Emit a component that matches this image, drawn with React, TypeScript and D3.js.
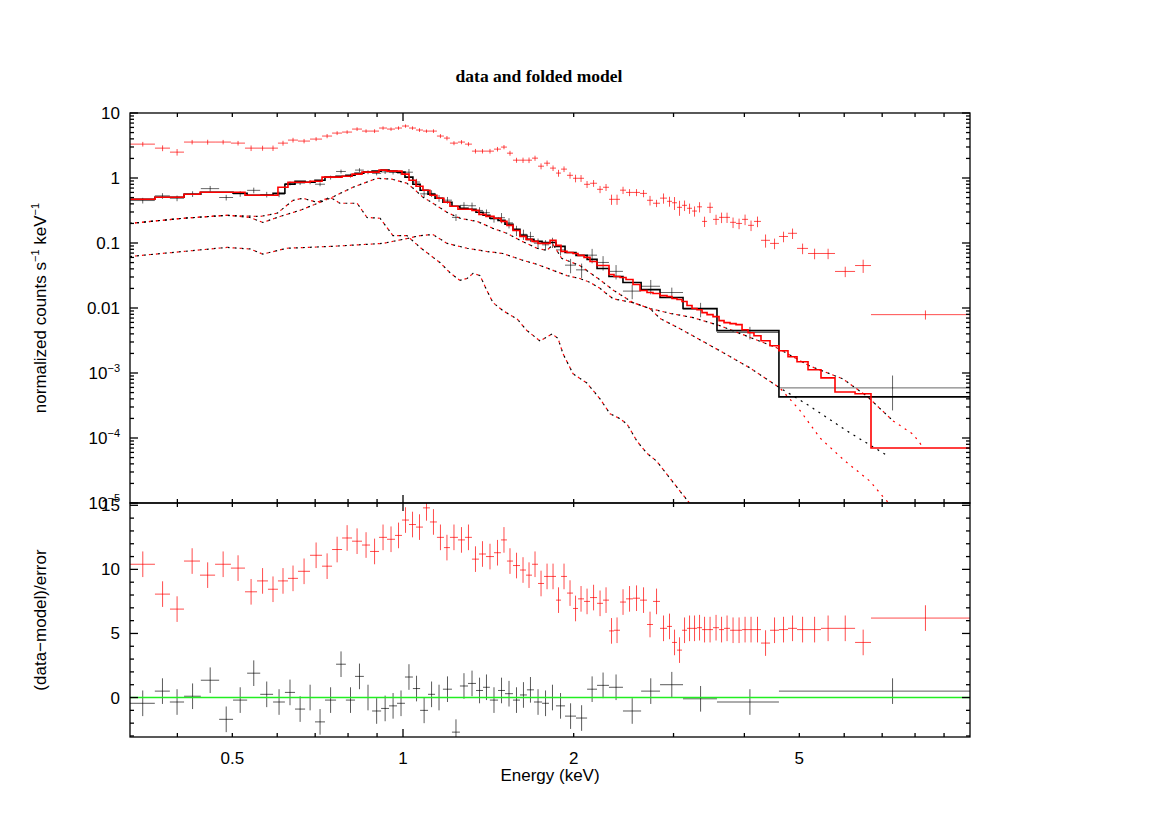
import React from "react";
import * as d3 from "d3";

// ---------- black data set (bins in keV) ----------
const blackEdges = [
  0.330, 0.365, 0.388, 0.411, 0.440, 0.474, 0.5015, 0.531, 0.560, 0.590,
  0.619, 0.645, 0.672, 0.6995, 0.7285, 0.762, 0.793, 0.823, 0.853, 0.882,
  0.915, 0.945, 0.976, 1.008, 1.041, 1.072, 1.107, 1.139, 1.176, 1.220,
  1.260, 1.302, 1.345, 1.384, 1.423, 1.471, 1.513, 1.563, 1.608, 1.654,
  1.702, 1.759, 1.809, 1.861, 1.931, 2.019, 2.112, 2.199, 2.308, 2.443,
  2.630, 2.840, 3.118, 3.579, 4.603, 10.0,
];
const blackModel = [
  0.471, 0.506, 0.506, 0.562, 0.604, 0.604, 0.582, 0.543, 0.543, 0.582,
  0.802, 0.893, 0.861, 0.925, 1.03, 1.066, 1.105, 1.186, 1.23, 1.274,
  1.32, 1.274, 1.23, 1.03, 0.80, 0.648, 0.562, 0.488, 0.423, 0.367,
  0.342, 0.33, 0.297, 0.267, 0.24, 0.223, 0.194, 0.162, 0.131, 0.1138,
  0.106, 0.102, 0.102, 0.0887, 0.0716, 0.0644, 0.0559, 0.0406, 0.0305, 0.0247,
  0.0192, 0.0145, 0.0098, 0.00448, 0.00043,
];
const blackData = [
  0.450, 0.531, 0.488, 0.568, 0.686, 0.501, 0.570, 0.646, 0.557, 0.562,
  0.824, 0.837, 0.861, 0.802, 1.016, 1.26, 1.09, 1.323, 1.23, 1.18,
  1.241, 1.216, 1.191, 1.228, 0.867, 0.570, 0.579, 0.488, 0.456, 0.248,
  0.379, 0.374, 0.317, 0.293, 0.234, 0.245, 0.204, 0.156, 0.136, 0.126,
  0.0993, 0.0937, 0.102, 0.0783, 0.0456, 0.0386, 0.065, 0.0502, 0.0366, 0.0182,
  0.0216, 0.0173, 0.0096, 0.0042, 0.00059,
];
const blackRelErr = [
  0.10, 0.10, 0.10, 0.10, 0.10, 0.10, 0.10, 0.10, 0.10, 0.10,
  0.07, 0.07, 0.07, 0.07, 0.07, 0.07, 0.07, 0.07, 0.07, 0.07,
  0.07, 0.07, 0.07, 0.12, 0.12, 0.12, 0.12, 0.12, 0.12, 0.12,
  0.12, 0.12, 0.12, 0.12, 0.12, 0.18, 0.18, 0.18, 0.18, 0.18,
  0.18, 0.18, 0.18, 0.18, 0.25, 0.25, 0.25, 0.25, 0.25, 0.25,
  0.25, 0.19, 0.25, 0.22, 0.55,
];
const blackResid = [
  -0.45, 0.5, -0.35, 0.1, 1.35, -1.7, -0.2, 1.9, 0.25, -0.35,
  0.4, -0.9, 0.0, -1.9, -0.2, 2.6, -0.2, 1.65, 0.0, -1.05,
  -0.85, -0.65, -0.45, 1.6, 0.7, -1.0, 0.25, 0.0, 0.65, -2.7,
  0.9, 1.1, 0.55, 0.8, -0.2, 0.55, 0.3, -0.2, 0.2, 0.6,
  -0.35, -0.45, 0.0, -0.65, -1.45, -1.6, 0.65, 0.95, 0.8, -1.05,
  0.5, 1.0, -0.1, -0.35, 0.5,
];

// ---------- red data set ----------
const redEdges = [
  0.330, 0.3652, 0.3882, 0.4109, 0.4385, 0.4662, 0.4972, 0.5264, 0.5528, 0.5779,
  0.6018, 0.6268, 0.6528, 0.6855, 0.7198, 0.7497, 0.7808, 0.8131, 0.8466, 0.8747,
  0.9072, 0.9371, 0.9680, 0.9959, 1.0247, 1.0542, 1.0845, 1.1157, 1.1477, 1.1808,
  1.2100, 1.2500, 1.2860, 1.3231, 1.3614, 1.4006, 1.4469, 1.4885, 1.5253, 1.5631,
  1.6082, 1.6479, 1.6886, 1.7302, 1.7731, 1.8169, 1.8614, 1.8998, 1.9464, 1.9946,
  2.0355, 2.0858, 2.1373, 2.1990, 2.2530, 2.3086, 2.3559, 2.4140, 2.4736, 2.5447,
  2.6182, 2.6937, 2.7602, 2.8397, 2.9215, 2.9815, 3.0426, 3.1053, 3.1690, 3.2340,
  3.3003, 3.3680, 3.4377, 3.5220, 3.6090, 3.6830, 3.7738, 3.8670, 3.9625, 4.0604,
  4.1591, 4.2794, 4.4391, 4.6035, 4.7753, 4.9535, 5.1801, 5.4601, 5.7797, 6.2705,
  6.6895, 10.0,
];
const redModel = [
  0.471, 0.506, 0.506, 0.562, 0.604, 0.604, 0.604, 0.543, 0.543, 0.543,
  0.721, 0.861, 0.861, 0.893, 1.03, 1.03, 1.066, 1.146, 1.23, 1.23,
  1.32, 1.274, 1.274, 1.146, 0.925, 0.747, 0.648, 0.543, 0.488, 0.423,
  0.367, 0.33, 0.33, 0.318, 0.276, 0.257, 0.24, 0.2155, 0.187, 0.156,
  0.1264, 0.1138, 0.106, 0.0986, 0.0986, 0.1096, 0.0918, 0.0742, 0.0716, 0.0691,
  0.0644, 0.060, 0.052, 0.0451, 0.0451, 0.0327, 0.0305, 0.0294, 0.0274, 0.023,
  0.0186, 0.0173, 0.0167, 0.0155, 0.015, 0.014, 0.0135, 0.0126, 0.0109, 0.0098,
  0.0094, 0.0085, 0.0079, 0.00736, 0.0064, 0.00595, 0.00574, 0.00555, 0.00464, 0.00417,
  0.00375, 0.00314, 0.00263, 0.0022, 0.00178, 0.00149, 0.00112, 0.00084, 0.00051, 0.00048,
  0.00007,
];
const redData = [
  3.32, 2.88, 2.50, 3.57, 3.57, 3.57, 3.44, 2.88, 2.88, 2.88,
  3.44, 3.83, 3.70, 3.97, 4.42, 4.91, 5.09, 5.66, 5.27, 5.27,
  5.87, 5.66, 5.87, 6.30, 5.87, 5.47, 5.27, 5.27, 4.42, 4.11,
  3.44, 3.57, 3.32, 2.59, 2.59, 2.59, 2.78, 2.99, 2.41, 1.88,
  1.88, 1.88, 2.02, 1.52, 1.69, 1.42, 1.19, 1.37, 1.10, 0.99,
  0.99, 0.80, 0.83, 0.67, 0.72, 0.47, 0.47, 0.65, 0.60, 0.60,
  0.58, 0.454, 0.409, 0.49, 0.438, 0.416, 0.354, 0.38, 0.342, 0.31,
  0.36, 0.215, 0.354, 0.231, 0.248, 0.248, 0.208, 0.20, 0.231, 0.187,
  0.215, 0.11, 0.0986, 0.126, 0.141, 0.0826, 0.069, 0.069, 0.0365, 0.045,
  0.0079,
];
const redResid = [
  10.4, 8.07, 6.9, 10.65, 9.55, 10.4, 10.1, 8.25, 9.1, 8.45,
  9.1, 9.3, 9.85, 11.1, 10.25, 11.55, 12.45, 12.2, 11.9, 11.4,
  12.5, 12.35, 12.65, 13.85, 13.5, 13.3, 14.8, 13.7, 12.5, 11.7,
  12.5, 12.3, 12.5, 10.8, 11.2, 11.0, 11.3, 12.3, 10.65, 10.3,
  9.95, 9.55, 10.4, 8.9, 9.45, 9.45, 7.6, 9.45, 8.15, 6.95,
  7.7, 7.5, 7.8, 7.35, 7.6, 5.2, 5.25, 7.45, 7.7, 7.75,
  7.6, 5.7, 7.5, 5.4, 5.55, 4.3, 3.7, 5.25, 5.4, 5.4,
  5.45, 5.3, 5.3, 5.45, 5.3, 5.4, 5.25, 5.25, 5.3, 5.3,
  5.3, 4.25, 5.25, 5.3, 5.4, 5.3, 5.3, 5.4, 5.4, 4.3,
  6.2,
];

// ---------- model components ----------
const compAlphaE = [0.33, 0.409, 0.489, 0.537, 0.566, 0.624, 0.753, 0.922, 1.016, 1.072,
  1.129, 1.196, 1.297, 1.406, 1.5, 1.628, 1.723, 1.839, 1.946, 2.05,
  2.14, 2.226, 2.345, 2.545, 2.727, 2.955, 3.25, 3.62, 4.56, 5.21,
  5.97, 6.58, 7.32];
const compAlphaV = [0.062, 0.074, 0.0855, 0.081, 0.0675, 0.083, 0.089, 0.0986, 0.117, 0.13,
  0.135, 0.0986, 0.083, 0.074, 0.069, 0.054, 0.047, 0.038, 0.0315, 0.0284,
  0.0247, 0.020, 0.0139, 0.0121, 0.0098, 0.0083, 0.0071, 0.00535, 0.00245, 0.00129,
  0.00081, 0.00044, 0.000183];
const compAlphaRedTailE = [7.93, 8.26];
const compAlphaRedTailV = [0.000115, 0.0000726];

const compBetaE = [0.33, 0.409, 0.489, 0.537, 0.566, 0.607, 0.658, 0.744, 0.816, 0.90,
  0.956, 1.016, 1.041, 1.085, 1.129, 1.196, 1.26, 1.351, 1.441, 1.525,
  1.608, 1.723, 1.795, 1.839, 1.905, 2.05, 2.226, 2.345, 2.545, 2.727,
  2.84, 3.08, 3.62, 4.09, 4.62];
const compBetaV = [0.2, 0.24, 0.267, 0.247, 0.207, 0.256, 0.318, 0.488, 0.72, 0.99,
  0.96, 0.83, 0.70, 0.505, 0.41, 0.296, 0.24, 0.215, 0.168, 0.141,
  0.11, 0.083, 0.077, 0.095, 0.058, 0.045, 0.027, 0.019, 0.0121, 0.0098,
  0.0069, 0.0048, 0.0022, 0.0012, 0.00059];
const compBetaBlackTailE = [5.21, 6.07, 7.17];
const compBetaBlackTailV = [0.000312, 0.000128, 0.0000527];
const compBetaRedTailE = [5.02, 5.44, 6.02, 6.66, 7.08, 8.36];
const compBetaRedTailV = [0.000261, 0.0001, 0.0000442, 0.0000217, 0.0000115, 0.0000026];

const compGammaE = [0.33, 0.409, 0.489, 0.56, 0.60, 0.624, 0.64, 0.666, 0.705, 0.744,
  0.774, 0.830, 0.864, 0.911, 0.960, 1.016, 1.072, 1.162, 1.21, 1.26,
  1.297, 1.329, 1.367, 1.406, 1.441, 1.5, 1.589, 1.654, 1.745, 1.832,
  1.877, 1.915, 1.995, 2.11, 2.226, 2.318, 2.41, 2.485, 2.585, 2.69,
  2.80, 2.955, 3.08, 3.2];
const compGammaV = [0.2, 0.24, 0.267, 0.256, 0.287, 0.38, 0.454, 0.488, 0.423, 0.506,
  0.409, 0.409, 0.247, 0.24, 0.13, 0.13, 0.0855, 0.05, 0.035, 0.0266,
  0.0284, 0.0341, 0.0315, 0.0186, 0.0121, 0.0091, 0.0068, 0.0045, 0.0031, 0.004,
  0.0034, 0.00198, 0.00097, 0.0007, 0.0004, 0.000236, 0.0002, 0.000163, 0.0000897, 0.0000587,
  0.0000442, 0.0000242, 0.0000152, 0.00001];

// ---------- axes ----------
const xMinorTicks = [0.4, 0.5, 0.6, 0.7, 0.8, 0.9, 2, 3, 4, 5, 6, 7, 8, 9];
const xMajorTicks = [1];
const xTickValues = [0.5, 1, 2, 5];
const xTickLabels = ["0.5", "1", "2", "5"];
const yTopDecades = [1e-5, 1e-4, 1e-3, 0.01, 0.1, 1, 10];
const yTopLabels = ["10|−5", "10|−4", "10|−3", "0.01", "0.1", "1", "10"];
const yBotMajor = [0, 5, 10, 15];
const yBotLabels = ["0", "5", "10", "15"];

const L = 130, R = 970, T = 113, M = 503, B = 737;
const SANS = "Liberation Sans, Arial, Helvetica, sans-serif";

export default function App() {
  const x = d3.scaleLog().domain([0.33, 10]).range([L, R]);
  const yT = d3.scaleLog().domain([1e-5, 10]).range([M, T]);
  const yB = d3.scaleLinear().domain([-3.08, 15.18]).range([B, M]);

  const stepPath = (edges: number[], vals: number[]) => {
    const pts: [number, number][] = vals.map((v, i) => [edges[i], v]);
    pts.push([edges[edges.length - 1], vals[vals.length - 1]]);
    return d3.line<[number, number]>().x(d => x(d[0])).y(d => yT(d[1])).curve(d3.curveStepAfter)(pts) || "";
  };
  const compPath = (es: number[], vs: number[]) =>
    d3.line<number>().x((_, i) => x(es[i])).y((_, i) => yT(Math.max(vs[i], 1e-7)))(es.map((e) => e)) || "";

  const redSigma = redData.map((d, i) => (d - redModel[i]) / redResid[i]);
  const blackSigma = blackData.map((d, i) => d * blackRelErr[i]);

  const crossesTop = (edges: number[], vals: number[], sig: number[], color: string, op: number) =>
    vals.map((v, i) => {
      const lo = edges[i], hi = edges[i + 1], c = (lo + hi) / 2;
      const y0 = yT(v), y1 = yT(Math.max(v - sig[i], 1e-7)), y2 = yT(v + sig[i]);
      return (
        <g key={i} stroke={color} strokeOpacity={op} strokeWidth={1}>
          <line x1={x(lo)} x2={x(hi)} y1={y0} y2={y0} />
          <line x1={x(c)} x2={x(c)} y1={y1} y2={y2} />
        </g>
      );
    });
  const crossesBot = (edges: number[], vals: number[], color: string, op: number) =>
    vals.map((v, i) => {
      const lo = edges[i], hi = edges[i + 1], c = (lo + hi) / 2;
      return (
        <g key={i} stroke={color} strokeOpacity={op} strokeWidth={1}>
          <line x1={x(lo)} x2={x(hi)} y1={yB(v)} y2={yB(v)} />
          <line x1={x(c)} x2={x(c)} y1={yB(v - 1)} y2={yB(v + 1)} />
        </g>
      );
    });

  const yTopMinor: number[] = [];
  for (let d = -5; d < 1; d++) for (let k = 2; k <= 9; k++) yTopMinor.push(k * Math.pow(10, d));
  const yBotMinor = d3.range(-3, 16);

  const comps: { e: number[]; v: number[]; color: string; off: number }[] = [
    { e: compAlphaE, v: compAlphaV, color: "#000", off: 0 },
    { e: compAlphaE.concat(compAlphaRedTailE), v: compAlphaV.concat(compAlphaRedTailV), color: "#f00", off: 2 },
    { e: compBetaE.concat(compBetaBlackTailE), v: compBetaV.concat(compBetaBlackTailV), color: "#000", off: 0 },
    { e: compBetaE.concat(compBetaRedTailE), v: compBetaV.concat(compBetaRedTailV), color: "#f00", off: 2 },
    { e: compGammaE, v: compGammaV, color: "#000", off: 0 },
    { e: compGammaE, v: compGammaV, color: "#f00", off: 2 },
  ];

  const tickX = (ys: number[]) =>
    ys.map((yy, j) => (
      <g key={"tx" + j}>
        {xMinorTicks.map((t, i) => (
          <line key={"m" + i} x1={x(t)} x2={x(t)} y1={yy} y2={yy + (j % 2 === 0 ? 4 : -4)} />
        ))}
        {xMajorTicks.map((t, i) => (
          <line key={"M" + i} x1={x(t)} x2={x(t)} y1={yy} y2={yy + (j % 2 === 0 ? 8 : -8)} />
        ))}
      </g>
    ));

  return (
    <svg width={1170} height={827} style={{ position: "absolute", left: 0, top: 0, background: "#fff" }}>
      <defs>
        <clipPath id="clipTop"><rect x={L} y={T} width={R - L} height={M - T} /></clipPath>
        <clipPath id="clipBot"><rect x={L} y={M} width={R - L} height={B - M} /></clipPath>
      </defs>
      <rect x={0} y={0} width={1170} height={827} fill="#fff" />

      <text x={539} y={82} textAnchor="middle" fontFamily="Liberation Serif, Times New Roman, serif" fontWeight="bold" fontSize={17.5}>
        data and folded model
      </text>

      {/* top panel */}
      <g clipPath="url(#clipTop)">
        {crossesTop(blackEdges, blackData, blackSigma, "#000", 0.6)}
        {crossesTop(redEdges, redData, redSigma, "#f00", 0.7)}
        {comps.map((c, i) => (
          <path key={i} d={compPath(c.e, c.v)} fill="none" stroke={c.color} strokeWidth={1.2}
            strokeDasharray="2,5" strokeDashoffset={c.off} />
        ))}
        <path d={stepPath(blackEdges, blackModel)} fill="none" stroke="#000" strokeWidth={1.6} />
        <path d={stepPath(redEdges, redModel)} fill="none" stroke="#f00" strokeWidth={1.6} />
      </g>

      {/* bottom panel */}
      <g clipPath="url(#clipBot)">
        {crossesBot(redEdges, redResid, "#f00", 0.7)}
        {crossesBot(blackEdges, blackResid, "#000", 0.65)}
        <line x1={L} x2={R} y1={yB(0)} y2={yB(0)} stroke="#22ee22" strokeWidth={1.6} />
      </g>

      {/* frames and ticks */}
      <g stroke="#000" strokeWidth={1.3} fill="none">
        <rect x={L} y={T} width={R - L} height={M - T} />
        <rect x={L} y={M} width={R - L} height={B - M} />
        {tickX([T, M, M, B])}
        {yTopDecades.map((d, i) => (
          <g key={"yd" + i}>
            <line x1={L} x2={L + 8} y1={yT(d)} y2={yT(d)} />
            <line x1={R} x2={R - 8} y1={yT(d)} y2={yT(d)} />
          </g>
        ))}
        {yTopMinor.map((d, i) => (
          <g key={"ym" + i}>
            <line x1={L} x2={L + 4} y1={yT(d)} y2={yT(d)} />
            <line x1={R} x2={R - 4} y1={yT(d)} y2={yT(d)} />
          </g>
        ))}
        {yBotMinor.map((d, i) => (
          <g key={"bm" + i}>
            <line x1={L} x2={L + (d % 5 === 0 ? 8 : 4)} y1={yB(d)} y2={yB(d)} />
            <line x1={R} x2={R - (d % 5 === 0 ? 8 : 4)} y1={yB(d)} y2={yB(d)} />
          </g>
        ))}
      </g>

      {/* tick labels */}
      <g fontFamily={SANS} fontSize={17} fill="#000">
        {yTopDecades.map((d, i) => {
          const parts = yTopLabels[i].split("|");
          return (
            <text key={"lt" + i} x={120} y={yT(d) + 6} textAnchor="end">
              <tspan>{parts[0]}</tspan>
              {parts[1] ? <tspan fontSize={11} dy={-7}>{parts[1]}</tspan> : null}
            </text>
          );
        })}
        {yBotMajor.map((d, i) => (
          <text key={"lb" + i} x={120} y={yB(d) + 6} textAnchor="end">{yBotLabels[i]}</text>
        ))}
        {xTickValues.map((v, i) => (
          <text key={"lx" + i} x={x(v)} y={764} textAnchor="middle">{xTickLabels[i]}</text>
        ))}
        <text x={550} y={781} textAnchor="middle">Energy (keV)</text>
        <text transform="translate(46,308) rotate(-90)" textAnchor="middle">
          <tspan>normalized counts s</tspan>
          <tspan fontSize={11} dy={-7}>−1</tspan>
          <tspan dy={7}> keV</tspan>
          <tspan fontSize={11} dy={-7}>−1</tspan>
        </text>
        <text transform="translate(46,620) rotate(-90)" textAnchor="middle">(data−model)/error</text>
      </g>
    </svg>
  );
}
